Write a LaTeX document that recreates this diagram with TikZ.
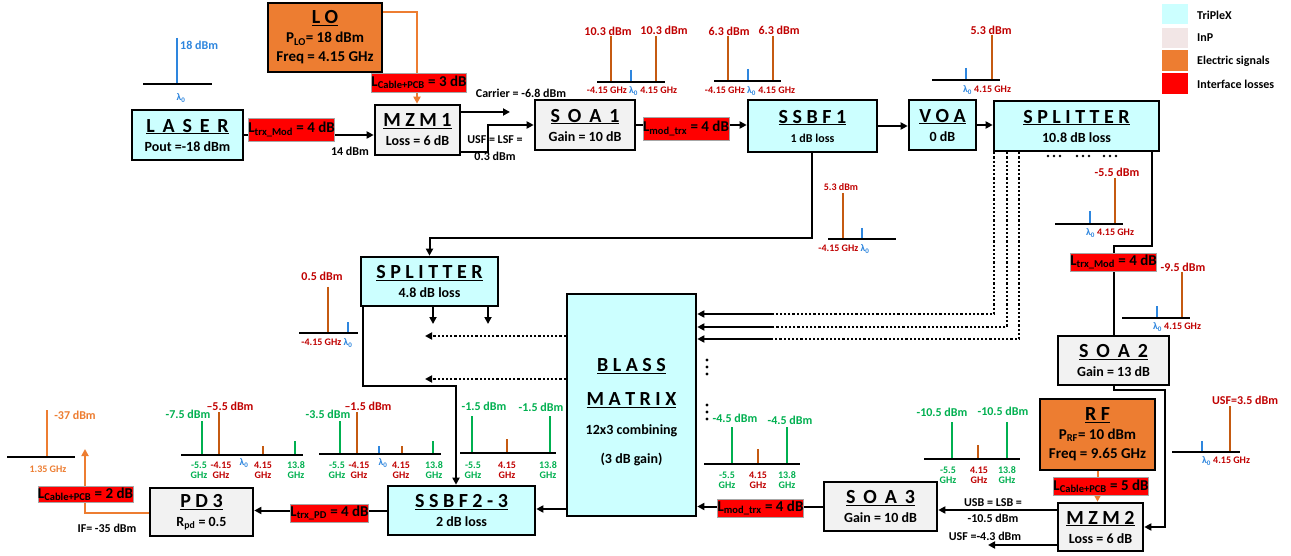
\documentclass[tikz,border=0pt]{standalone}
\usepackage{fontspec}
\setmainfont{Carlito}
\usetikzlibrary{arrows.meta}
\pgfdeclarelayer{bg}
\pgfdeclarelayer{paper}
\pgfsetlayers{paper,bg,main}
\definecolor{cy}{HTML}{CCFFFF}
\definecolor{gy}{HTML}{F2F2F2}
\definecolor{org}{HTML}{ED7D31}
\definecolor{sorg}{HTML}{C55A11}
\definecolor{drd}{HTML}{C00000}
\definecolor{grn}{HTML}{00B050}
\definecolor{blu}{HTML}{2E86DE}
\definecolor{inpc}{HTML}{F2E6E6}
\newcommand\fsz[1]{\fontsize{#1}{#1}\selectfont}
\newcommand\ttl[1]{\underline{\hbox{\fontsize{20}{22}\selectfont\bfseries #1}}}
\newcommand\lam{λ\textsubscript{0}}
\tikzset{
  blk/.style={draw=black, line width=2.6pt, align=center, inner sep=0pt,
    font=\bfseries\fontsize{14}{19}\selectfont},
  tribox/.style={blk, fill=cy},
  inpbox/.style={blk, fill=gy},
  elbox/.style={blk, fill=org, font=\bfseries\fontsize{15}{19}\selectfont},
  loss/.style={fill=red, draw=gray!70, line width=0.6pt, inner sep=0pt,
    font=\bfseries\fontsize{15}{15}\selectfont},
  wire/.style={line width=2pt},
  conn/.style={line width=2pt, -{Triangle[length=7pt,width=7pt]}},
  oconn/.style={line width=2pt, draw=org, -{Triangle[length=7pt,width=7pt]}},
  dotw/.style={line width=2.2pt, dash pattern=on 2.2pt off 2pt},
  dotconn/.style={dotw, -{Triangle[length=7pt,width=7pt]}},
  base/.style={line width=2.4pt},
  ol/.style={line width=2.4pt, draw=sorg},
  bl/.style={line width=2.4pt, draw=blu},
  gl/.style={line width=2.4pt, draw=grn},
  lab/.style={inner sep=0pt, font=\bfseries\fsz{12}},
  sml/.style={inner sep=0pt, font=\bfseries\fsz{10}, align=center},
}
\begin{document}
\begin{tikzpicture}[x=1pt,y=-1pt]
\useasboundingbox (0,0) rectangle (1291,556);
\begin{pgfonlayer}{paper}
\fill[white] (0,0) rectangle (1291,556);
\end{pgfonlayer}

% ---------- blocks ----------
\node[tribox, minimum width=111pt, minimum height=50pt] (laser) at (187.5,135) {\ttl{L\, A\, S\, E\, R}\\Pout =-18 dBm};
\node[elbox, minimum width=114pt, minimum height=69pt] (lo) at (325,37.5) {\ttl{L O}\\P\textsubscript{LO}= 18 dBm\\Freq = 4.15 GHz};
\node[inpbox, minimum width=85pt, minimum height=50pt] (mzm1) at (417.5,130) {\ttl{M Z M 1}\\Loss = 6 dB};
\node[inpbox, minimum width=100pt, minimum height=50pt] (soa1) at (585,125) {\ttl{S\, O\, A\, 1}\\Gain = 10 dB};
\node[tribox, minimum width=129pt, minimum height=52pt] (ssbf1) at (812.5,126) {\ttl{S S B F 1}\\{\fsz{12}1 dB loss}};
\node[tribox, minimum width=67pt, minimum height=50pt] (voa) at (942.5,125) {\ttl{V O A}\\0 dB};
\node[tribox, minimum width=165pt, minimum height=50pt] (spl) at (1076.5,126) {\ttl{S P L I T T E R}\\10.8 dB loss};
\node[tribox, minimum width=137pt, minimum height=49pt] (spl2) at (429.5,281.5) {\ttl{S P L I T T E R}\\4.8 dB loss};
\node[tribox, minimum width=129pt, minimum height=222pt] (blass) at (631.5,405) {};
\node[inner sep=0pt, align=center, font=\bfseries\fontsize{14}{29}\selectfont] (blasst) at (631.5,412) {\ttl{B L A S S}\\[5pt]\ttl{M A T R I X}\\12x3 combining\\(3 dB gain)};
\node[inpbox, minimum width=111pt, minimum height=49pt] (soa2) at (1113.5,360.5) {\ttl{S\, O\, A\, 2}\\Gain = 13 dB};
\node[elbox, minimum width=115pt, minimum height=71pt] (rf) at (1097.5,434.5) {\ttl{R F}\\P\textsubscript{RF}= 10 dBm\\Freq = 9.65 GHz};
\node[inpbox, minimum width=85pt, minimum height=48pt] (mzm2) at (1100.5,527) {\ttl{M Z M 2}\\Loss = 6 dB};
\node[inpbox, minimum width=113pt, minimum height=49pt] (soa3) at (880.5,506.5) {\ttl{S\, O\, A\, 3}\\Gain = 10 dB};
\node[tribox, minimum width=147pt, minimum height=49pt] (ssbf23) at (461.5,510.5) {\ttl{S S B F 2 - 3}\\2 dB loss};
\node[inpbox, minimum width=103pt, minimum height=48pt] (pd3) at (201.5,512) {\ttl{P D 3}\\R\textsubscript{pd} = 0.5};

% ---------- interface losses ----------
\node[loss, minimum width=83pt, minimum height=23pt] (lA) at (291.5,129.5) {L\textsubscript{trx\_Mod} = 4 dB};
\node[loss, minimum width=92pt, minimum height=19pt] (lB) at (419,82.5) {L\textsubscript{Cable+PCB} = 3 dB};
\node[loss, minimum width=82pt, minimum height=23pt] (lC) at (686,128.5) {L\textsubscript{mod\_trx} = 4 dB};
\node[loss, minimum width=83pt, minimum height=18pt] (lD) at (1113.5,262) {L\textsubscript{trx\_Mod} = 4 dB};
\node[loss, minimum width=92pt, minimum height=18pt] (lE) at (1101,486) {L\textsubscript{Cable+PCB} = 5 dB};
\node[loss, minimum width=83pt, minimum height=18pt] (lF) at (760.5,508) {L\textsubscript{mod\_trx} = 4 dB};
\node[loss, minimum width=75pt, minimum height=18pt] (lG) at (329.5,513) {L\textsubscript{trx\_PD} = 4 dB};
\node[loss, minimum width=91pt, minimum height=16pt] (lH) at (85.5,494) {L\textsubscript{Cable+PCB} = 2 dB};

% ---------- coordinates ----------
\coordinate (lo1) at (417,12);
\coordinate (car) at (510,112);
\coordinate (usf) at (488,152);
\coordinate (c1) at (812,238);
\coordinate (d1) at (994,314);
\coordinate (d2) at (1007,327);
\coordinate (d3) at (1019,339);
\coordinate (e1) at (772,314);
\coordinate (e2) at (772,327);
\coordinate (e3) at (772,339);
\coordinate (c2) at (1152,246);
\coordinate (c3) at (1113.5,246);
\coordinate (c4) at (1165,390);
\coordinate (c5) at (0,510);
\coordinate (c6) at (988,545);
\coordinate (c7) at (0,509);
\coordinate (c8) at (85,513);
\coordinate (c9) at (85,449);
\coordinate (a1) at (433,324);
\coordinate (a2) at (488,324);
\coordinate (b1) at (425,336);
\coordinate (b2) at (425,379);
\coordinate (c10) at (363,386);
\coordinate (c11) at (456,386);

% ---------- connectors ----------
\begin{pgfonlayer}{bg}
\draw[conn] (laser.east) -- (laser.east -| mzm1.west);
\draw[oconn] (lo.east |- lo1) -- (lo1) -- (lo1 |- mzm1.north);
\draw[conn] (mzm1.east |- car) -- (car);
\draw[conn] (mzm1.east |- usf) -- (usf) -- (usf |- soa1.west) -- (soa1.west);
\draw[conn] (soa1.east) -- (soa1.east -| ssbf1.west);
\draw[conn] (ssbf1.east) -- (ssbf1.east -| voa.west);
\draw[conn] (voa.east) -- (voa.east -| spl.west);
\draw[conn] (ssbf1.south -| c1) -- (c1) -- (c1 -| spl2.north) -- (spl2.north);
\draw[dotw] (d1 |- spl.south) -- (d1) -- (e1);
\draw[dotw] (d2 |- spl.south) -- (d2) -- (e2);
\draw[dotw] (d3 |- spl.south) -- (d3) -- (e3);
\draw[conn] (e1) -- (e1 -| blass.east);
\draw[conn] (e2) -- (e2 -| blass.east);
\draw[conn] (e3) -- (e3 -| blass.east);
\draw[wire] (c2 |- spl.south) -- (c2) -- (c3) -- (soa2.north);
\draw[conn] (soa2.south) -- (soa2.south |- c4) -- (c4) -- (c4 |- mzm2.east) -- (mzm2.east);
\draw[oconn] (rf.south) -- (rf.south |- mzm2.north);
\draw[conn] (mzm2.west |- c5) -- (soa3.east |- c5);
\draw[conn] (mzm2.west |- c6) -- (c6);
\draw[conn] (soa3.west) -- (soa3.west -| blass.east);
\draw[conn] (blass.west |- c7) -- (ssbf23.east |- c7);
\draw[conn] (ssbf23.west) -- (ssbf23.west -| pd3.east);
\draw[oconn] (pd3.west |- c8) -- (c8) -- (c9);
\draw[conn] (spl2.south -| a1) -- (a1);
\draw[conn] (spl2.south -| a2) -- (a2);
\draw[dotconn] (blass.west |- b1) -- (b1);
\draw[dotconn] (blass.west |- b2) -- (b2);
\draw[conn] (spl2.south -| c10) -- (c10) -- (c11) -- (c11 |- ssbf23.north);
\end{pgfonlayer}

% dots
\foreach \x in {1048,1054,1060,1077,1083,1089,1104,1110,1116} \fill (\x,156) circle (1.4pt);
\foreach \y in {360,367,374,405,412,419} \fill (707,\y) circle (1.6pt);

% ---------- legend ----------
\fill[cy] (1162,4) rectangle (1188,24);
\fill[inpc] (1162,28) rectangle (1188,48);
\fill[org] (1162,50) rectangle (1188,71);
\fill[red] (1162,73) rectangle (1188,94);
\node[lab, anchor=west] (lg1) at (1197,15) {TriPleX};
\node[lab, anchor=west] (lg2) at (1197,38) {InP};
\node[lab, anchor=west] (lg3) at (1197,61) {Electric signals};
\node[lab, anchor=west] (lg4) at (1197,84) {Interface losses};

% ---------- black labels ----------
\node[lab] (t14) at (350,151) {14 dBm};
\node[lab] (tcar) at (521,93) {Carrier = -6.8 dBm};
\node[lab] (tusf1) at (495,140) {USF = LSF =};
\node[lab] (tusf2) at (495,156) {0.3 dBm};
\node[lab] (tusb1) at (993,503) {USB = LSB =};
\node[lab] (tusb2) at (993,518) {-10.5 dBm};
\node[lab] (tusf3) at (985,536) {USF =-4.3 dBm};
\node[lab] (tif) at (107,528) {IF= -35 dBm};

% ---------- spectra ----------
% laser
\draw[bl] (177,38) -- (177,84);
\draw[base] (143,84) -- (212,84);
\node[lab, text=blu, anchor=west] (s0a) at (180,45) {18 dBm};
\node[sml, text=blu] (s0b) at (181,98) {\lam};
% after SOA1
\draw[ol] (611,36) -- (611,82);
\draw[ol] (656,36) -- (656,82);
\draw[bl] (631,70) -- (631,82);
\draw[base] (597,82) -- (665,82);
\node[lab, text=drd] (s1a) at (608,31) {10.3 dBm};
\node[lab, text=drd] (s1b) at (664,30) {10.3 dBm};
\node[sml] (s1c) at (632,91) {\color{drd}-4.15 GHz \color{blu}\lam\ \color{drd}4.15 GHz};
% before SSBF1
\draw[ol] (728,36) -- (728,81);
\draw[ol] (773,36) -- (773,81);
\draw[bl] (748,69) -- (748,81);
\draw[base] (714,81) -- (781,81);
\node[lab, text=drd] (s2a) at (729,31) {6.3 dBm};
\node[lab, text=drd] (s2b) at (779,30) {6.3 dBm};
\node[sml] (s2c) at (750,91) {\color{drd}-4.15 GHz \color{blu}\lam\ \color{drd}4.15 GHz};
% after VOA
\draw[bl] (966,68) -- (966,80);
\draw[ol] (992,35) -- (992,80);
\draw[base] (932,80) -- (1000,80);
\node[lab, text=drd] (s3a) at (991,30) {5.3 dBm};
\node[sml] (s3b) at (987,90) {\color{blu}\lam\ \color{drd}4.15 GHz};
% SSBF1 drop
\draw[ol] (843,193) -- (843,239);
\draw[bl] (862,228) -- (862,239);
\draw[base] (828,239) -- (896,239);
\node[sml, text=drd] (s4a) at (841,187) {5.3 dBm};
\node[sml] (s4b) at (844,249) {\color{drd}-4.15 GHz \color{blu}\lam};
% left of splitter2
\draw[ol] (328,287) -- (328,333);
\draw[bl] (348,322) -- (348,333);
\draw[base] (299,333) -- (358,333);
\node[lab, text=drd] (s5a) at (322,276) {0.5 dBm};
\node[sml] (s5b) at (327,343) {\color{drd}-4.15 GHz \color{blu}\lam};
% -5.5 dBm
\draw[bl] (1090,211) -- (1090,224);
\draw[ol] (1115,178) -- (1115,224);
\draw[base] (1055,224) -- (1123,224);
\node[lab, text=drd] (s6a) at (1117,172) {-5.5 dBm};
\node[sml] (s6b) at (1110,233) {\color{blu}\lam\ \color{drd}4.15 GHz};
% -9.5 dBm
\draw[bl] (1157,306) -- (1157,318);
\draw[ol] (1182,272) -- (1182,318);
\draw[base] (1122,318) -- (1190,318);
\node[lab, text=drd] (s7a) at (1183,267) {-9.5 dBm};
\node[sml] (s7b) at (1177,327) {\color{blu}\lam\ \color{drd}4.15 GHz};
% USF=3.5
\draw[bl] (1202,441) -- (1202,452);
\draw[ol] (1230,406) -- (1230,452);
\draw[base] (1172,452) -- (1240,452);
\node[lab, text=drd] (s8a) at (1245,400) {USF=3.5 dBm};
\node[sml] (s8b) at (1226,461) {\color{blu}\lam\ \color{drd}4.15 GHz};
% E (SOA3 in)
\draw[gl] (952,422) -- (952,459);
\draw[ol] (978,445) -- (978,459);
\draw[gl] (1007,422) -- (1007,459);
\draw[base] (924,459) -- (1020,459);
\node[lab, text=grn] (s9a) at (942,412) {-10.5 dBm};
\node[lab, text=grn] (s9b) at (1003,411) {-10.5 dBm};
\node[sml, text=grn] (s9c) at (948,475) {-5.5\\GHz};
\node[sml, text=drd] (s9d) at (979,475) {4.15\\GHz};
\node[sml, text=grn] (s9e) at (1007,475) {13.8\\GHz};
% D (BLASS in)
\draw[gl] (732,427) -- (732,464);
\draw[ol] (758,449) -- (758,464);
\draw[gl] (787,427) -- (787,464);
\draw[base] (704,464) -- (800,464);
\node[lab, text=grn] (s10a) at (735,418) {-4.5 dBm};
\node[lab, text=grn] (s10b) at (790,420) {-4.5 dBm};
\node[sml, text=grn] (s10c) at (727,480) {-5.5\\GHz};
\node[sml, text=drd] (s10d) at (758,480) {4.15\\GHz};
\node[sml, text=grn] (s10e) at (787,480) {13.8\\GHz};
% C (BLASS out)
\draw[gl] (472,416) -- (472,453);
\draw[ol] (507,439) -- (507,453);
\draw[gl] (550,416) -- (550,453);
\draw[base] (460,453) -- (556,453);
\node[lab, text=grn] (s11a) at (484,406) {-1.5 dBm};
\node[lab, text=grn] (s11b) at (541,407) {-1.5 dBm};
\node[sml, text=grn] (s11c) at (473,470) {-5.5\\GHz};
\node[sml, text=drd] (s11d) at (507,470) {4.15\\GHz};
\node[sml, text=grn] (s11e) at (548,470) {13.8\\GHz};
% B
\draw[gl] (340,421) -- (340,454);
\draw[ol] (357,412) -- (357,454);
\draw[bl] (379,446) -- (379,454);
\draw[ol] (402,446) -- (402,454);
\draw[gl] (433,441) -- (433,454);
\draw[base] (319,454) -- (441,454);
\node[lab, text=grn] (s12a) at (328,414) {-3.5 dBm};
\node[lab, text=drd] (s12b) at (368,406) {--1.5 dBm};
\node[sml, text=grn] (s12c) at (337,470) {-5.5\\GHz};
\node[sml, text=drd] (s12d) at (359,470) {-4.15\\GHz};
\node[sml, text=blu] (s12e) at (383,463) {\lam};
\node[sml, text=drd] (s12f) at (401,470) {4.15\\GHz};
\node[sml, text=grn] (s12g) at (434,470) {13.8\\GHz};
% A
\draw[gl] (202,421) -- (202,455);
\draw[ol] (219,412) -- (219,455);
\draw[ol] (263,446) -- (263,455);
\draw[gl] (295,441) -- (295,455);
\draw[base] (181,455) -- (303,455);
\node[lab, text=grn] (s13a) at (188,414) {-7.5 dBm};
\node[lab, text=drd] (s13b) at (230,406) {--5.5 dBm};
\node[sml, text=grn] (s13c) at (199,470) {-5.5\\GHz};
\node[sml, text=drd] (s13d) at (221,470) {-4.15\\GHz};
\node[sml, text=blu] (s13e) at (244,463) {\lam};
\node[sml, text=drd] (s13f) at (263,470) {4.15\\GHz};
\node[sml, text=grn] (s13g) at (296,470) {13.8\\GHz};
% PD out
\draw[line width=2.4pt, draw=org] (47,410) -- (47,457);
\draw[base] (7,457) -- (75,457);
\node[lab, text=org] (s14a) at (75,415) {-37 dBm};
\node[sml, text=org] (s14b) at (48,469) {1.35 GHz};
\end{tikzpicture}
\end{document}
